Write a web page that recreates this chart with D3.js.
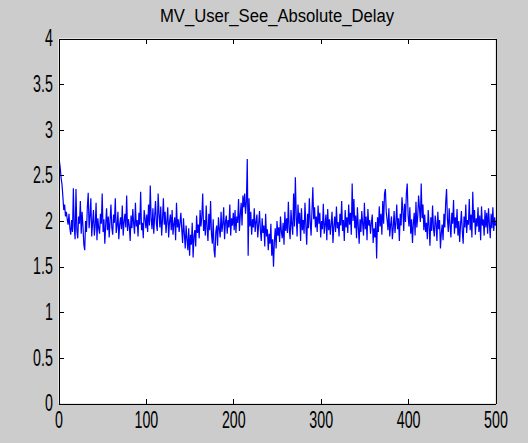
<!DOCTYPE html>
<html>
<head>
<meta charset="utf-8">
<style>
  body { margin: 0; background: #cccccc; }
  svg { display: block; }
  .axis path, .axis line { stroke: #000; shape-rendering: crispEdges; }
  .axis text { font-family: "Liberation Sans", Arial, sans-serif; fill: #000; }
  .line { fill: none; stroke: #0000ff; stroke-width: 1.2; }
</style>
</head>
<body>
<svg width="528" height="443"></svg>
<script src="https://cdn.jsdelivr.net/npm/d3@7"></script>
<script>
var title = "MV_User_See_Absolute_Delay";
var xTicks = [0, 100, 200, 300, 400, 500];
var yTicks = [0, 0.5, 1, 1.5, 2, 2.5, 3, 3.5, 4];

// delay per sample, x = 1..500
var delay = [
  2.66, 2.58, 2.47, 2.40, 2.27, 2.12, 2.18, 2.05, 2.10, 2.02, 1.96, 2.08, 1.92, 1.85, 2.01, 1.88, 2.36, 1.94, 1.80, 2.35,
  1.90, 1.81, 2.05, 1.97, 2.22, 1.86, 2.10, 1.94, 1.74, 1.68, 2.00, 1.88, 2.15, 2.31, 1.92, 2.05, 2.25, 1.83, 1.98, 2.12,
  1.84, 1.95, 2.20, 1.79, 2.03, 1.92, 1.86, 2.08, 1.97, 2.30, 1.88, 2.02, 1.75, 1.96, 2.14, 1.90, 2.05, 1.82, 2.00, 2.18,
  1.93, 1.85, 2.07, 1.98, 2.25, 1.87, 1.95, 2.10, 1.80, 1.96, 2.04, 1.91, 2.17, 1.84, 1.99, 2.08, 1.93, 2.28, 1.89, 2.02,
  1.95, 1.78, 2.06, 1.92, 2.13, 1.97, 1.86, 2.20, 1.94, 2.01, 1.83, 2.09, 1.96, 2.32, 1.90, 1.98, 1.81, 2.12, 2.03, 1.92,
  2.07, 1.88, 2.18, 1.95, 2.39, 2.02, 1.91, 2.14, 1.86, 2.05, 2.22, 1.97, 1.89, 2.30, 2.08, 1.93, 2.16, 1.84, 2.02, 2.25,
  1.96, 2.10, 1.87, 2.00, 2.15, 1.82, 1.99, 2.07, 1.90, 2.12, 1.85, 1.97, 2.04, 1.79, 2.20, 1.93, 2.02, 1.88, 1.98, 2.09,
  1.91, 1.76, 2.03, 1.86, 1.70, 1.95, 1.80, 1.68, 1.92, 1.62, 1.85, 1.74, 1.98, 1.60, 1.83, 1.90, 1.72, 2.06, 1.87, 1.96,
  1.81, 2.12, 1.94, 2.05, 2.30, 1.89, 2.01, 1.84, 2.17, 1.93, 1.78, 2.08, 1.90, 2.22, 1.86, 1.75, 2.02, 1.68, 1.60, 1.88,
  1.95, 1.73, 2.04, 1.91, 1.82, 2.10, 1.88, 1.97, 2.15, 1.80, 1.99, 2.06, 1.86, 2.01, 1.93, 2.18, 1.84, 2.03, 1.95, 2.09,
  1.90, 2.12, 1.87, 2.05, 1.98, 2.24, 1.89, 2.07, 2.20, 1.95, 2.28, 2.15, 2.30, 2.08, 2.22, 2.68, 1.62, 2.25, 1.94, 2.10,
  1.85, 2.02, 1.93, 2.14, 1.88, 1.99, 2.07, 1.82, 1.96, 2.11, 1.90, 1.78, 2.03, 1.87, 1.95, 1.72, 2.08, 1.83, 1.91, 1.68,
  1.86, 1.75, 1.97, 1.62, 1.80, 1.50, 1.78, 1.92, 1.70, 2.00, 1.84, 1.93, 1.77, 2.05, 1.88, 1.81, 1.98, 1.74, 2.10, 1.89,
  2.03, 1.87, 2.21, 1.92, 1.80, 2.12, 1.96, 1.85, 2.30, 1.94, 2.48, 2.06, 1.83, 2.18, 1.97, 2.09, 1.78, 2.14, 1.90, 2.01,
  1.86, 2.20, 1.95, 1.74, 2.08, 1.92, 2.25, 1.99, 1.84, 2.11, 2.37, 2.02, 2.15, 1.93, 2.05, 1.88, 2.17, 1.97, 2.09, 1.82,
  2.00, 1.91, 2.19, 1.86, 1.96, 2.07, 1.79, 2.13, 1.90, 2.02, 1.85, 1.97, 2.10, 1.76, 1.94, 2.05, 1.88, 2.16, 1.92, 1.99,
  1.83, 2.08, 1.95, 2.22, 1.89, 2.01, 1.78, 2.12, 1.93, 2.04, 1.87, 2.18, 1.96, 2.09, 1.85, 2.41, 2.00, 2.24, 1.92, 2.06,
  1.81, 2.15, 1.94, 1.75, 2.02, 1.88, 2.11, 1.97, 1.84, 2.20, 1.91, 2.05, 1.79, 2.13, 1.95, 2.01, 1.86, 1.98, 2.07, 1.76,
  1.92, 1.82, 1.99, 1.59, 2.04, 1.88, 2.16, 1.94, 2.08, 1.85, 2.22, 1.97, 2.30, 2.35, 2.10, 2.01, 1.90, 2.14, 1.83, 1.96,
  2.05, 1.80, 1.93, 2.11, 1.87, 1.98, 2.18, 1.91, 2.03, 1.78, 2.08, 1.95, 2.26, 2.12, 1.89, 2.19, 1.99, 2.30, 2.41, 2.06,
  1.94, 2.15, 1.86, 2.02, 1.76, 1.97, 2.09, 1.84, 2.21, 1.93, 2.05, 2.28, 2.14, 1.99, 2.41, 2.03, 2.18, 1.90, 2.07, 1.88,
  1.98, 1.80, 2.12, 1.95, 1.73, 2.04, 1.89, 2.17, 1.92, 1.83, 2.06, 1.97, 1.78, 2.10, 1.91, 2.01, 1.70, 1.87, 1.96, 1.79,
  2.08, 1.93, 2.20, 2.35, 2.02, 1.88, 2.14, 1.95, 1.82, 2.09, 1.97, 2.23, 1.86, 2.04, 1.92, 2.13, 1.84, 2.00, 1.77, 1.96,
  2.11, 1.89, 1.75, 2.05, 1.93, 2.18, 1.87, 2.01, 1.96, 2.24, 1.90, 2.07, 1.82, 2.32, 1.98, 2.12, 1.85, 2.03, 1.94, 2.15,
  1.88, 2.06, 1.79, 2.16, 1.95, 2.02, 1.84, 2.12, 1.93, 2.09, 1.86, 2.14, 1.97, 1.81, 2.08, 1.92, 2.15, 1.89, 2.04, 1.95
];

var margin = {top: 38.5, left: 58.5},
    width = 437,
    height = 365;

var x = d3.scaleLinear().domain([0, 500]).range([0, width]);
var y = d3.scaleLinear().domain([0, 4]).range([height, 0]);

var svg = d3.select("svg");

svg.append("rect")
    .attr("width", 528).attr("height", 443)
    .attr("fill", "#cccccc");

svg.append("text")
    .attr("x", 277)
    .attr("y", 22)
    .attr("text-anchor", "middle")
    .attr("font-family", "Liberation Sans, Arial, sans-serif")
    .attr("font-size", 18)
    .attr("textLength", 234)
    .attr("lengthAdjust", "spacingAndGlyphs")
    .text(title);

var g = svg.append("g")
    .attr("transform", "translate(" + margin.left + "," + margin.top + ")");

g.append("rect")
    .attr("width", width).attr("height", height)
    .attr("fill", "#fff");

// the curve
var line = d3.line()
    .x(function(d, i) { return x(i + 1); })
    .y(function(d) { return y(d); });

g.append("path")
    .attr("class", "line")
    .attr("d", line(delay));

// axes, ticks inside on all sides
var bottom = g.append("g").attr("class", "axis")
    .attr("transform", "translate(0," + height + ")")
    .call(d3.axisBottom(x).tickValues(xTicks).tickSize(-5).tickSizeOuter(0).tickPadding(8));

var left = g.append("g").attr("class", "axis")
    .call(d3.axisLeft(y).tickValues(yTicks).tickSize(-5).tickSizeOuter(0).tickPadding(9)
      .tickFormat(function(d) { return d; }));

g.append("g").attr("class", "axis")
    .call(d3.axisTop(x).tickValues(xTicks).tickSize(-5).tickSizeOuter(0).tickFormat(""));

g.append("g").attr("class", "axis")
    .attr("transform", "translate(" + width + ",0)")
    .call(d3.axisRight(y).tickValues(yTicks).tickSize(-5).tickSizeOuter(0).tickFormat(""));

// tall narrow tick labels like the original
g.selectAll(".axis text")
    .attr("font-size", 23)
    .attr("transform", "scale(0.62,1)");

g.selectAll(".axis .domain").attr("stroke-width", 1);
</script>
</body>
</html>
